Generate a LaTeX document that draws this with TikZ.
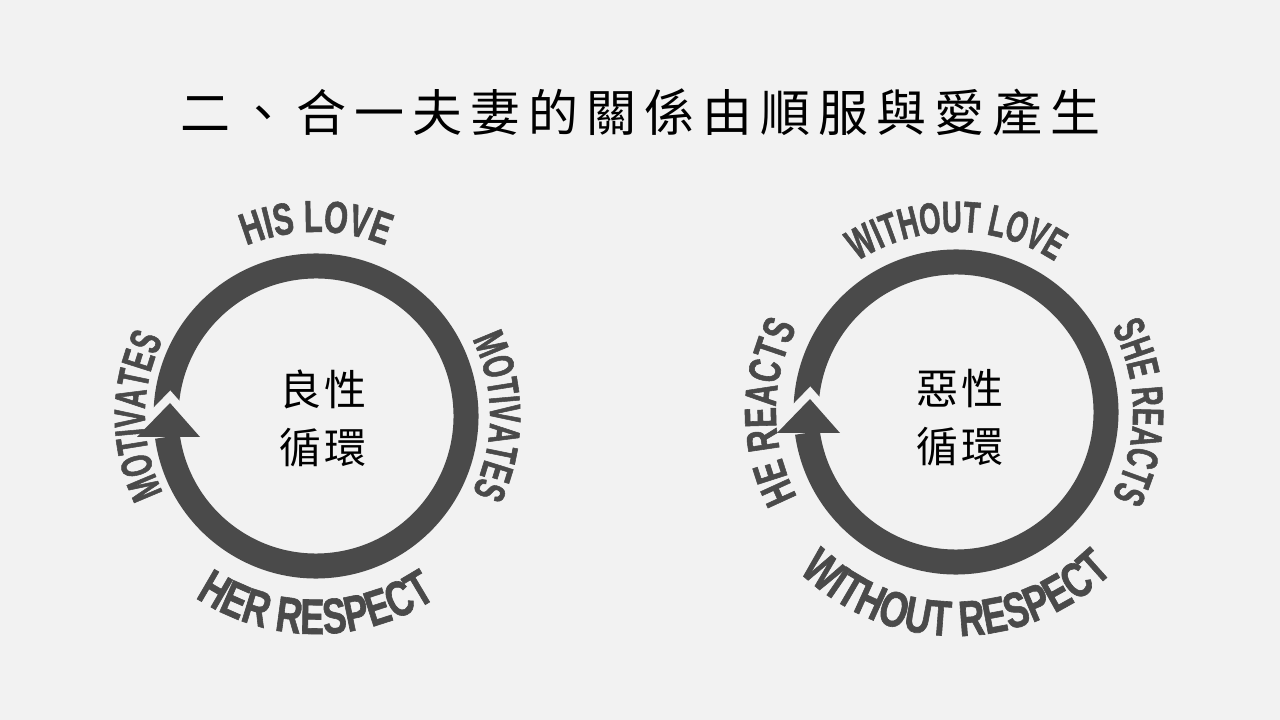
\documentclass[tikz,border=0pt]{standalone}
\usepackage{fontspec}
\usetikzlibrary{decorations.text}
\newfontfamily\cjkfont{Noto Sans CJK TC}
\newfontfamily\capsfont[FakeStretch=0.62,FakeBold=1.2]{Liberation Sans}
\newfontfamily\capsmid[FakeStretch=0.68,FakeBold=1.2]{Liberation Sans}
\newfontfamily\capswide[FakeStretch=0.72,FakeBold=1.2]{Liberation Sans}
\newcommand\lab{\capsfont\bfseries\fontsize{44}{44}\selectfont}
\newcommand\labmid{\capsmid\bfseries\fontsize{45}{45}\selectfont}
\newcommand\labbig{\capswide\bfseries\fontsize{50}{50}\selectfont}
\definecolor{ringgray}{gray}{0.29}
\definecolor{paper}{gray}{0.95}
\tikzset{
  ring/.style={draw=ringgray, line width=25pt},
  notch/.style={draw=paper, line width=17pt, line join=miter},
  head/.style={fill=ringgray},
  centretext/.style={align=center,
    font=\cjkfont\fontsize{42}{58}\selectfont\addfontfeature{LetterSpace=7}},
  arclabel/.style={decorate, decoration={text along path, text align=center,
    text color=ringgray, text={#1}}},
  cycle ring/.pic={
    \draw[ring] (-172:150) arc[start angle=-172, end angle=177, radius=150];
    \draw[notch] (-179,-21) -- (-146,13) -- (-116,-21);
    \fill[head] (-179,-21) -- (-146,13) -- (-116,-21) -- cycle;
  }
}
\begin{document}
\begin{tikzpicture}[x=1pt,y=1pt]
  \fill[paper] (0,0) rectangle (1280,720);
  \useasboundingbox (0,0) rectangle (1280,720);
  \node (title) at (640,608)
    {\cjkfont\fontsize{50}{50}\selectfont\addfontfeature{LetterSpace=16}二、合一夫妻的關係由順服與愛產生};

  % good cycle
  \coordinate (c1) at (316,304);
  \pic at (c1) {cycle ring};
  \node[centretext] (good) at (323,302) {良性\\循環};
  \path[arclabel={|\labmid|HIS LOVE}] ([shift={(150:184)}]c1) arc[start angle=150, end angle=30, radius=184];
  \path[arclabel={|\lab|MOTIVATES}] ([shift={(60:174)}]c1) arc[start angle=60, end angle=-60, radius=174];
  \path[arclabel={|\labbig|HER RESPECT}] ([shift={(-165:218)}]c1) arc[start angle=-165, end angle=-15, radius=218];
  \path[arclabel={|\lab|MOTIVATES}] ([shift={(240:171)}]c1) arc[start angle=240, end angle=120, radius=171];

  % bad cycle
  \coordinate (c2) at (956,308);
  \pic at (c2) {cycle ring};
  \node[centretext] (bad) at (960,302) {惡性\\循環};
  \path[arclabel={|\lab|WITHOUT LOVE}] ([shift={(155:180)}]c2) arc[start angle=155, end angle=25, radius=180];
  \path[arclabel={|\lab|SHE REACTS}] ([shift={(65:177)}]c2) arc[start angle=65, end angle=-65, radius=177];
  \path[arclabel={|\labbig|WITHOUT RESPECT}] ([shift={(-170:224)}]c2) arc[start angle=-170, end angle=-10, radius=224];
  \path[arclabel={|\labmid|HE REACTS}] ([shift={(245:180)}]c2) arc[start angle=245, end angle=115, radius=180];
\end{tikzpicture}
\end{document}
